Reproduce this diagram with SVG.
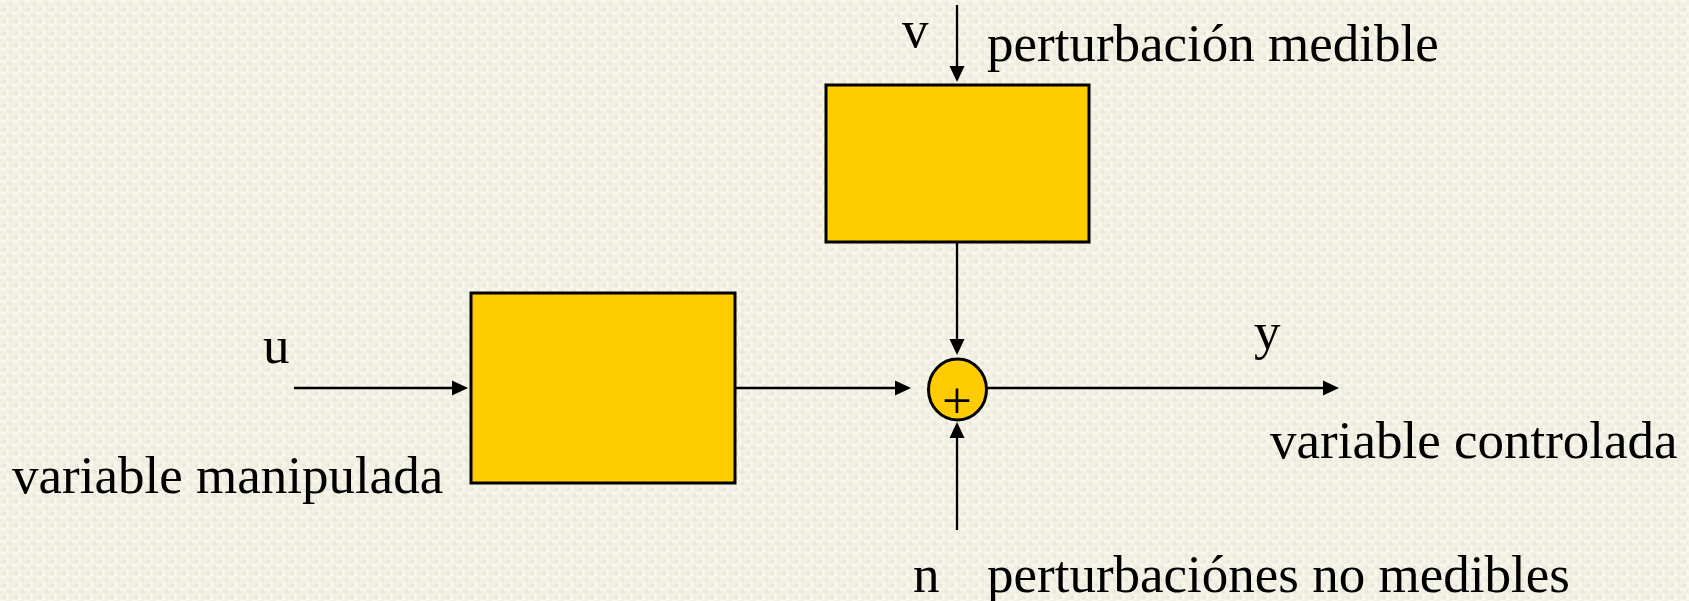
<svg xmlns="http://www.w3.org/2000/svg" width="1689" height="601" viewBox="0 0 1689 601">
<style>
.lbl{font-family:"Liberation Serif","Times New Roman",serif;font-size:53px;fill:#000}
.box{fill:#FFCC00;stroke:#000;stroke-width:3}
.wire{stroke:#000;stroke-width:2.3;fill:none}
</style>
<defs>
<marker id="ah" markerUnits="userSpaceOnUse" markerWidth="18" markerHeight="16" refX="6" refY="7.5" orient="auto" overflow="visible">
<path d="M0,0 L16,7.5 L0,15 z" fill="#000"/>
</marker>
<pattern id="tex" patternUnits="userSpaceOnUse" width="12" height="12">
<rect width="12" height="12" fill="#f1f0e3"/>
<rect x="0" y="0" width="6" height="3" fill="#f7f7ee"/>
<rect x="6" y="6" width="3" height="6" fill="#f7f7ee"/>
<rect x="3" y="8" width="3" height="3" fill="#e8e7d8"/>
<rect x="9" y="2" width="3" height="3" fill="#e8e7d8"/>
</pattern>
</defs>
<rect width="1689" height="601" fill="url(#tex)"/>

<g id="connectors">
<line class="wire" x1="294" y1="388" x2="458" y2="388" marker-end="url(#ah)"/>
<line class="wire" x1="736" y1="388" x2="901" y2="388" marker-end="url(#ah)"/>
<line class="wire" x1="957" y1="5" x2="957" y2="72" marker-end="url(#ah)"/>
<line class="wire" x1="957" y1="243" x2="957" y2="345" marker-end="url(#ah)"/>
<line class="wire" x1="957" y1="530" x2="957" y2="432" marker-end="url(#ah)"/>
<line class="wire" x1="987" y1="388" x2="1329" y2="388" marker-end="url(#ah)"/>
</g>

<g id="block1">
<rect class="box" x="471" y="293" width="264" height="190"/>
</g>
<g id="block2">
<rect class="box" x="826" y="85" width="263" height="157"/>
</g>
<g id="sum">
<ellipse class="box" cx="957.5" cy="389.5" rx="29" ry="30.5"/>
<text class="lbl" x="957" y="418" text-anchor="middle">+</text>
</g>

<g id="labels">
<text class="lbl" x="263" y="363">u</text>
<text class="lbl" x="12" y="493">variable manipulada</text>
<text class="lbl" x="902" y="47">v</text>
<text class="lbl" x="987" y="61">perturbación medible</text>
<text class="lbl" x="1254" y="349">y</text>
<text class="lbl" x="1270" y="458">variable controlada</text>
<text class="lbl" x="913" y="592">n</text>
<text class="lbl" x="987" y="592" font-size="50.5">perturbaciónes no medibles</text>
</g>
</svg>
